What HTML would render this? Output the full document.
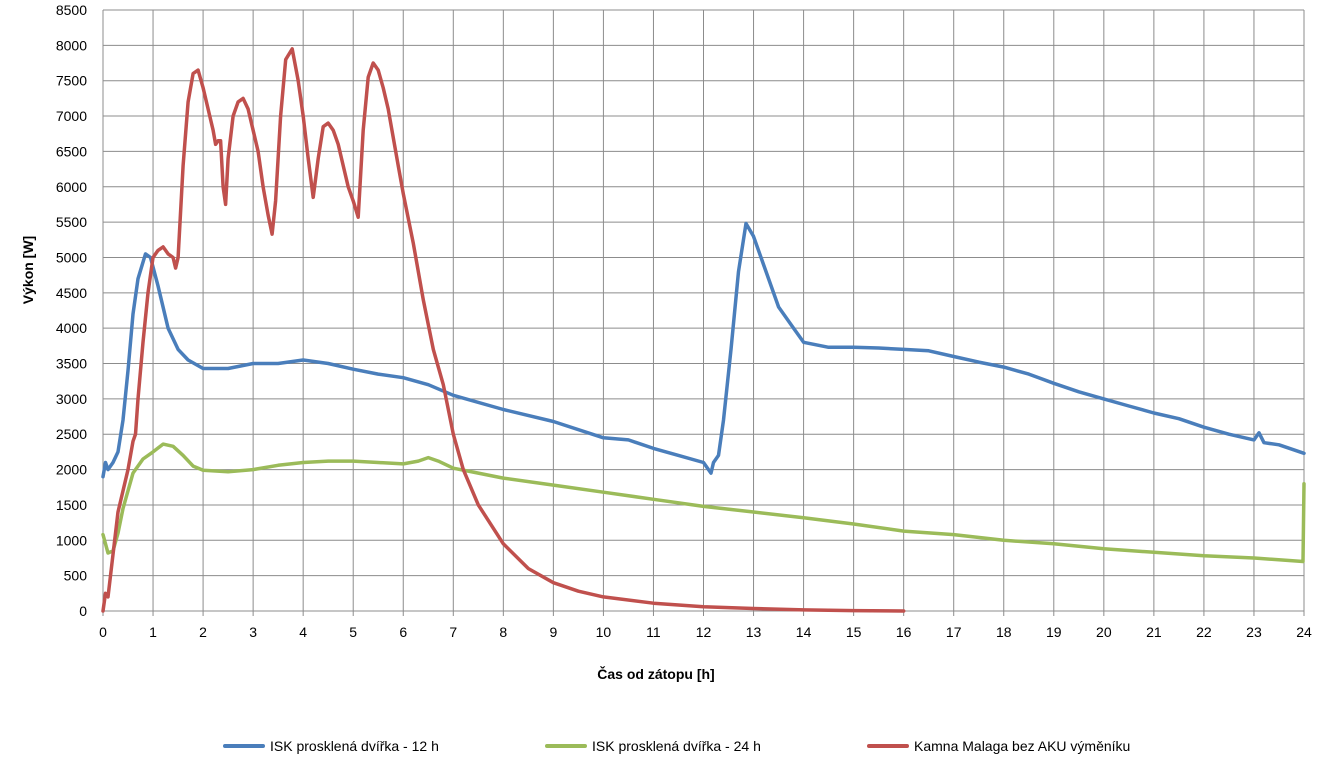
<!DOCTYPE html>
<html><head><meta charset="utf-8"><style>
html,body{margin:0;padding:0;background:#fff;width:1318px;height:758px;overflow:hidden}
svg{display:block;font-family:"Liberation Sans",sans-serif}
</style></head><body>
<svg id="chart" width="1318" height="758"></svg>
<script>
const xTicks=[0,1,2,3,4,5,6,7,8,9,10,11,12,13,14,15,16,17,18,19,20,21,22,23,24];
const yTicks=[0,500,1000,1500,2000,2500,3000,3500,4000,4500,5000,5500,6000,6500,7000,7500,8000,8500];
const blueT=[0,0.05,0.1,0.2,0.3,0.4,0.5,0.6,0.7,0.85,0.95,1.1,1.3,1.5,1.7,2,2.5,3,3.5,4,4.5,5,5.5,6,6.5,7,8,9,10,10.5,11,11.5,12,12.1,12.15,12.2,12.3,12.4,12.55,12.7,12.85,13,13.2,13.5,13.8,14,14.5,15,15.5,16,16.5,17,17.5,18,18.5,19,19.5,20,20.5,21,21.5,22,22.5,23,23.1,23.2,23.5,24];
const blueV=[1900,2100,2000,2100,2250,2700,3400,4200,4700,5050,5000,4600,4000,3700,3550,3430,3430,3500,3500,3550,3500,3420,3350,3300,3200,3050,2850,2680,2450,2420,2300,2200,2100,2000,1950,2100,2200,2700,3700,4800,5480,5300,4900,4300,4000,3800,3730,3730,3720,3700,3680,3600,3520,3450,3350,3220,3100,3000,2900,2800,2720,2600,2500,2420,2520,2380,2350,2230];
const greenT=[0,0.05,0.1,0.2,0.3,0.4,0.5,0.6,0.8,1,1.2,1.4,1.6,1.8,2,2.5,3,3.5,4,4.5,5,5.5,6,6.3,6.5,6.7,7,7.5,8,9,10,11,12,13,14,15,16,17,18,19,20,21,22,23,23.98,24];
const greenV=[1080,950,820,850,1100,1450,1700,1950,2150,2250,2360,2330,2200,2050,1990,1970,2000,2060,2100,2120,2120,2100,2080,2120,2170,2120,2020,1950,1880,1780,1680,1580,1480,1400,1320,1230,1130,1080,1000,950,880,830,780,750,700,1800];
const redT=[0,0.05,0.1,0.2,0.3,0.5,0.6,0.65,0.7,0.8,0.9,1.0,1.1,1.2,1.3,1.4,1.45,1.5,1.6,1.7,1.8,1.9,2.0,2.1,2.2,2.25,2.3,2.35,2.4,2.45,2.5,2.6,2.7,2.8,2.9,3.0,3.1,3.2,3.3,3.38,3.45,3.55,3.65,3.78,3.9,4.0,4.1,4.2,4.3,4.4,4.5,4.6,4.7,4.8,4.9,5.0,5.1,5.2,5.3,5.4,5.5,5.6,5.7,5.8,5.9,6.0,6.2,6.4,6.6,6.8,7.0,7.2,7.5,8,8.5,9,9.5,10,11,12,13,14,15,16];
const redV=[0,250,200,800,1400,2000,2400,2500,3000,3800,4500,5000,5100,5150,5050,5000,4850,5000,6300,7200,7600,7650,7400,7100,6800,6600,6650,6650,6000,5750,6400,7000,7200,7250,7100,6800,6500,6000,5600,5330,5800,7000,7800,7950,7500,7000,6400,5850,6400,6850,6900,6800,6600,6300,6000,5800,5570,6800,7550,7750,7650,7400,7100,6700,6300,5900,5200,4400,3700,3200,2500,2000,1500,950,600,400,280,200,110,60,35,15,5,0];

const NS="http://www.w3.org/2000/svg";
const svg=document.getElementById('chart');
const X0=103,X1=1304,Y0=611,Y1=10;
const xs=h=>X0+(X1-X0)*h/24;
const ys=v=>Y0-(Y0-Y1)*v/8500;
function mk(tag,attrs,parent){const e=document.createElementNS(NS,tag);for(const k in attrs)e.setAttribute(k,attrs[k]);(parent||svg).appendChild(e);return e;}

const grid=mk('g',{});


yTicks.forEach(v=>{
  const l=mk('line',{x1:X0,x2:X1,y1:ys(v),y2:ys(v),stroke:'#8c8c8c','stroke-width':1},grid);
  
  
  const t=mk('text',{x:87,y:ys(v)+5,'text-anchor':'end','font-size':14,fill:'#000'});
  t.textContent=v;
  
  
});
xTicks.forEach(h=>{
  const l=mk('line',{x1:xs(h),x2:xs(h),y1:Y1,y2:Y0+5,stroke:'#8c8c8c','stroke-width':1},grid);
  
  
  const t=mk('text',{x:xs(h),y:Y0+26,'text-anchor':'middle','font-size':14,fill:'#000'});
  t.textContent=h;
  
  
});

function series(T,V,color,name){
  const d=T.map((t,i)=>(i?'L':'M')+xs(t).toFixed(1)+','+ys(V[i]).toFixed(1)).join('');
  const p=mk('path',{d:d,fill:'none',stroke:color,'stroke-width':3.5,'stroke-linejoin':'round','stroke-linecap':'round'});
  
  
}
series(greenT,greenV,'#9bbb59','series-isk-24h');
series(blueT,blueV,'#4a7ebb','series-isk-12h');
series(redT,redV,'#c0504d','series-malaga');

const yt=mk('text',{x:0,y:0,'font-size':14,'font-weight':'bold',fill:'#000','text-anchor':'middle',transform:'translate(33,270) rotate(-90)'});
yt.textContent='Výkon [W]';


const xt=mk('text',{x:656,y:679,'font-size':14,'font-weight':'bold',fill:'#000','text-anchor':'middle'});
xt.textContent='Čas od zátopu [h]';



const legend=[['#4a7ebb','ISK prosklená dvířka - 12 h',225],['#9bbb59','ISK prosklená dvířka - 24 h',547],['#c0504d','Kamna Malaga bez AKU výměníku',869]];
legend.forEach(([c,label,x])=>{
  const g=mk('g',{});
  
  
  mk('line',{x1:x,x2:x+38,y1:746,y2:746,stroke:c,'stroke-width':4,'stroke-linecap':'round'},g);
  const t=mk('text',{x:x+45,y:751,'font-size':14,fill:'#000'},g);
  t.textContent=label;
});
</script>
</body></html>
